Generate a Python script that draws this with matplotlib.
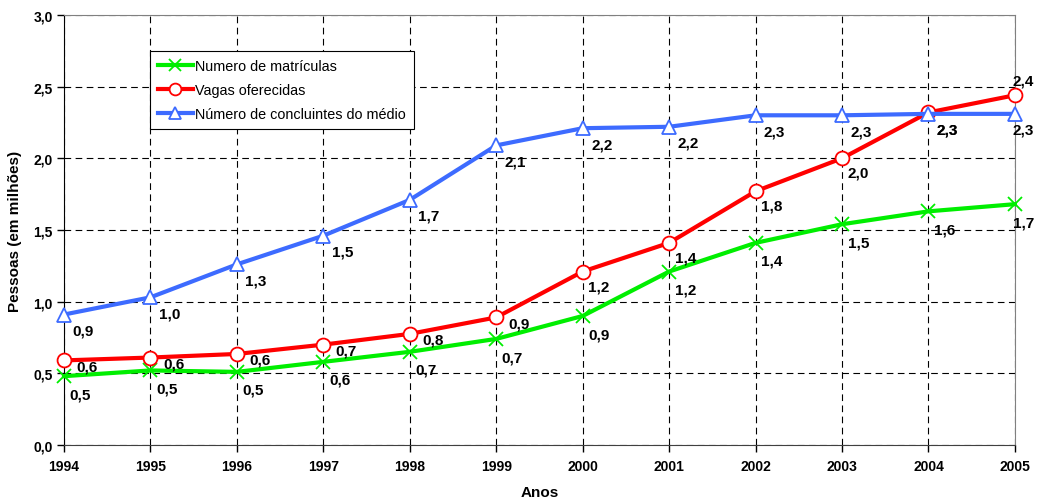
import matplotlib
matplotlib.use('Agg')
import matplotlib.pyplot as plt

plt.rcParams['font.family'] = ['Liberation Sans', 'DejaVu Sans']

anos = [1994, 1995, 1996, 1997, 1998, 1999, 2000, 2001, 2002, 2003, 2004, 2005]
matriculas = [0.48, 0.52, 0.51, 0.58, 0.65, 0.74, 0.90, 1.21, 1.41, 1.54, 1.63, 1.68]
vagas = [0.59, 0.61, 0.635, 0.70, 0.775, 0.89, 1.21, 1.41, 1.77, 2.00, 2.32, 2.44]
concluintes = [0.91, 1.03, 1.26, 1.46, 1.71, 2.09, 2.21, 2.22, 2.30, 2.30, 2.31, 2.31]

fig = plt.figure(figsize=(10.37, 5.02), dpi=100)
ax = fig.add_axes([0.0617, 0.1116, 0.917, 0.8566])

series = [
    ('Numero de matrículas', matriculas, '#00EE00', 'x', (4, -8)),
    ('Vagas oferecidas', vagas, '#FF0000', 'o', (9, 1)),
    ('Número de concluintes do médio', concluintes, '#3D6BFF', '^', (6, -6.5)),
]

for nome, vals, cor, mk, off in series:
    ax.plot(anos, vals, color=cor, lw=3, marker=mk, ms=10,
            mfc='white' if mk != 'x' else cor, mec=cor, mew=1.3,
            label=nome, clip_on=False, zorder=3)
    for a, v in zip(anos, vals):
        o = off
        y = v
        if nome == 'Vagas oferecidas' and a >= 2000:
            o = (4, -5.5)
        if a == 2005:
            o = (-1.5, o[1])
        if nome == 'Vagas oferecidas' and a == 2005:
            o = (-1.5, 16)
        if nome == 'Vagas oferecidas' and a == 2004:
            # rótulo cai em cima do rótulo azul
            o = (6, -6.5)
            y = concluintes[anos.index(a)]
        ax.annotate(('%.1f' % v).replace('.', ','), (a, y), xytext=o,
                    textcoords='offset points', ha='left', va='top',
                    fontsize=11, fontweight='bold', zorder=4,
                    annotation_clip=False)

ax.set_xlim(1994, 2005)
ax.set_ylim(0, 3.0)
ax.set_xticks(anos)
ax.set_yticks([0, 0.5, 1.0, 1.5, 2.0, 2.5, 3.0])
ax.set_yticklabels(['0,0', '0,5', '1,0', '1,5', '2,0', '2,5', '3,0'])
ax.tick_params(labelsize=10, length=5, width=1)
ax.tick_params(axis='x', pad=5)
ax.tick_params(axis='y', pad=3)
for t in ax.get_xticklabels() + ax.get_yticklabels():
    t.set_fontweight('bold')
ax.grid(True, color='black', ls=(0, (6, 4)), lw=0.8)

for s in ['top', 'right']:
    ax.spines[s].set_color('#808080')
ax.spines['left'].set_color('black')
ax.spines['bottom'].set_color('#404040')

ax.set_xlabel('Anos', fontsize=11, fontweight='bold', labelpad=9)
ax.set_ylabel('Pessoas (em milhões)', fontsize=11, fontweight='bold', labelpad=8)

leg = ax.legend(loc='upper left', bbox_to_anchor=(0.0904, 0.916), borderaxespad=0,
                fontsize=10.4, frameon=True, fancybox=False, edgecolor='black',
                borderpad=0.55, handlelength=2.4, handletextpad=0.2,
                labelspacing=0.7, framealpha=1, markerscale=0.85)
leg.get_frame().set_linewidth(0.8)

fig.savefig('out.png', dpi=100)
